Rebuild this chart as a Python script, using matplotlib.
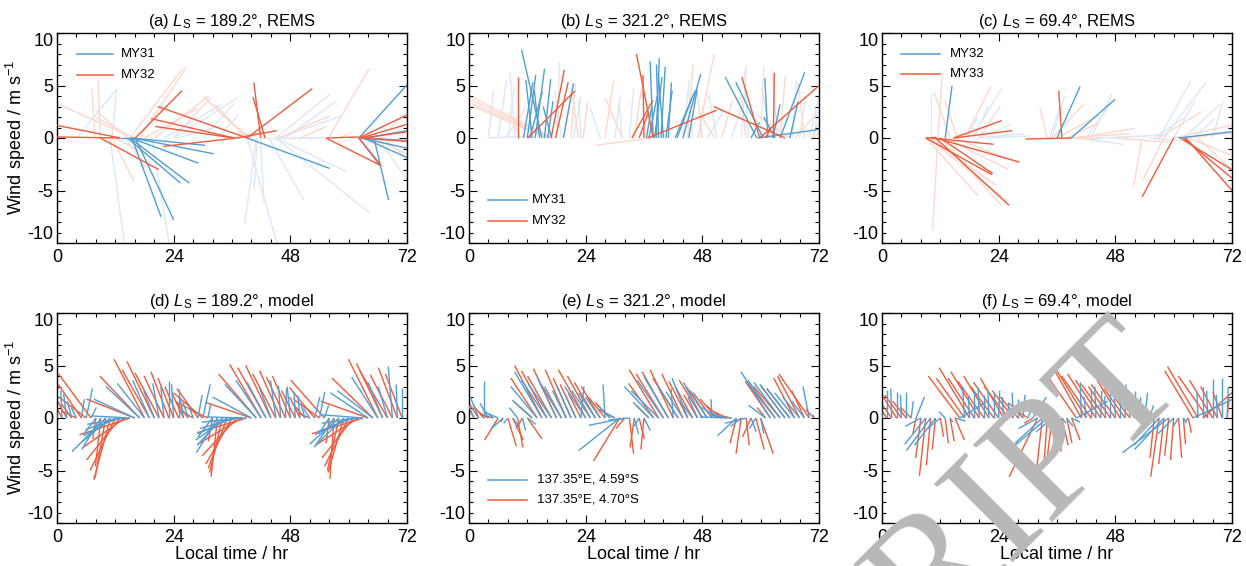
import numpy as np
import matplotlib
matplotlib.use('Agg')
import matplotlib.pyplot as plt
from matplotlib.collections import LineCollection
from matplotlib.lines import Line2D
from matplotlib.ticker import MultipleLocator

plt.rcParams['font.family'] = ['Liberation Sans', 'DejaVu Sans']
plt.rcParams['mathtext.fontset'] = 'custom'
plt.rcParams['mathtext.rm'] = 'Liberation Sans'
plt.rcParams['mathtext.it'] = 'Liberation Sans:italic'
plt.rcParams['axes.unicode_minus'] = False

# ---------------- data ----------------
titles = [r'(a) $L_\mathrm{S}$ = 189.2°, REMS', r'(b) $L_\mathrm{S}$ = 321.2°, REMS',
          r'(c) $L_\mathrm{S}$ = 69.4°, REMS', r'(d) $L_\mathrm{S}$ = 189.2°, model',
          r'(e) $L_\mathrm{S}$ = 321.2°, model', r'(f) $L_\mathrm{S}$ = 69.4°, model']
xticks = [0, 24, 48, 72]
yticks = [-10, -5, 0, 5, 10]
ytick_labels = ['-10', '-5', '0', '5', '10']
legend_a = ['MY31', 'MY32']
legend_b = ['MY31', 'MY32']
legend_c = ['MY32', 'MY33']
legend_e = ['137.35°E, 4.59°S', '137.35°E, 4.70°S']

model_hours = np.arange(72)

# panel d (model, Ls 189.2)
d_blue_u = [-0.2,-0.1,-0.3,-0.4,-0.5,0.3,0.6,0.5,-1.2,-1.8,-3.2,-2.6,-3.0,-3.3,-3.6,-3.7,-3.9,-3.2,-2.6,-1.6,-1.0,-0.6,-0.3,0.0,
            -0.2,0.0,-0.3,-0.5,-0.4,0.4,0.7,0.3,-1.4,-2.0,-2.4,-3.0,-3.3,-3.5,-3.8,-3.8,-3.7,-3.0,-2.4,-1.8,-1.1,-0.5,-0.2,0.1,
            -0.3,-0.1,-0.2,-0.4,-0.6,0.5,0.5,0.4,-1.0,-1.9,-2.8,-2.7,-3.2,-3.4,-3.5,-3.9,-3.6,-3.4,-2.5,-1.4,-0.9,-0.4,-0.1,0.0]
d_blue_v = [3.4,2.6,2.3,1.6,1.0,1.8,2.8,1.0,-1.6,-3.0,-3.2,-2.2,-1.7,-1.1,-0.6,0.2,1.8,3.0,3.3,3.6,2.6,3.3,3.0,3.5,
            3.2,2.8,2.0,1.5,1.2,2.2,3.2,1.3,-1.8,-3.3,-2.6,-2.1,-1.5,-1.0,-0.4,0.1,2.0,3.2,3.6,3.4,2.9,3.6,3.1,2.8,
            3.0,2.5,2.1,1.4,0.9,2.0,2.5,1.2,-1.5,-2.8,-2.5,-2.6,-1.6,-1.3,-0.5,0.3,2.4,2.6,3.9,3.4,3.0,4.9,3.2,2.9]
d_red_u = [-1.6,-1.4,-1.2,-1.0,-1.3,-2.2,-2.6,-3.1,-0.3,-0.5,-1.0,-1.6,-2.4,-3.2,-4.0,-4.8,-4.6,-3.8,-2.9,-2.6,-2.6,-2.3,-1.9,-1.7,
           -1.5,-1.3,-1.1,-1.2,-1.4,-2.0,-2.8,-3.0,-0.4,-0.6,-1.2,-1.8,-2.5,-3.3,-4.2,-4.7,-4.4,-3.6,-3.0,-2.7,-2.4,-2.2,-2.0,-1.8,
           -1.7,-1.3,-1.0,-1.1,-1.2,-2.4,-2.5,-3.2,-0.3,-0.4,-1.1,-1.5,-2.3,-3.0,-4.1,-4.9,-4.5,-3.9,-2.8,-2.5,-2.7,-2.1,-1.8,-1.6]
d_red_v = [4.3,2.8,2.2,1.4,0.6,3.2,2.0,4.2,-2.0,-4.6,-5.7,-5.9,-5.0,-4.0,-2.8,-1.6,1.8,4.0,5.6,4.6,5.4,4.3,4.0,4.4,
           3.8,3.0,2.4,1.6,0.8,2.8,2.4,1.5,-2.2,-5.6,-5.2,-4.8,-4.4,-3.6,-2.5,-1.4,1.5,4.2,5.1,4.8,5.0,4.2,4.5,3.9,
           4.0,2.6,2.0,1.3,0.5,2.9,1.8,3.6,-2.4,-5.8,-5.0,-5.2,-4.6,-3.8,-2.6,-1.5,1.6,3.8,5.6,5.2,4.6,4.1,4.8,4.2]

# panel e (model, Ls 321.2)
e_blue_u = [-1.2,-1.0,-0.8,0.0,-0.8,-1.0,-0.9,-1.1,-0.4,0.6,-0.8,0.3,0.8,-1.9,-2.5,-2.6,-2.4,-2.2,-1.8,-1.6,-1.3,-1.4,-1.0,0.3,
            -2.0,-1.8,-1.6,-1.4,-0.2,-1.2,-1.0,-3.9,-3.4,-2.0,0.4,-0.5,0.6,-1.5,-2.8,-2.6,-2.5,-2.3,-0.2,-2.0,-1.6,-1.5,-1.2,-0.9,
            -1.8,-1.6,-0.1,-1.4,-1.2,-1.5,-3.0,-1.8,-1.0,-2.0,0.5,-0.6,0.3,-1.6,-2.8,-2.6,-2.5,-2.4,-2.2,-1.9,-1.6,-1.2,-0.6,-0.1]
e_blue_v = [3.0,2.5,2.0,3.5,1.4,0.8,0.4,-1.0,-0.5,-0.8,1.0,-1.2,-0.6,1.7,3.0,4.4,3.6,3.2,3.8,3.0,2.6,3.2,2.2,3.0,
            3.0,2.6,2.4,2.0,3.2,1.2,0.5,-3.1,-0.7,-0.2,-1.5,-0.8,-1.2,1.5,3.0,2.6,3.6,3.9,2.8,3.2,2.5,3.8,1.6,2.0,
            3.4,2.6,1.8,1.0,0.6,0.3,0.1,-1.7,-0.8,-0.5,-1.3,-1.0,-1.5,1.2,4.4,3.6,3.4,3.2,2.8,2.4,2.0,1.6,3.0,0.3]
e_red_u = [-1.5,-1.3,-1.2,-1.0,-1.0,-1.2,-1.3,-0.2,0.8,1.0,0.5,-0.6,1.4,-1.8,-2.5,-2.6,-2.4,-2.3,-2.2,-2.0,-2.0,-1.7,-1.5,-1.2,
           -2.6,-2.2,-2.0,-1.8,-1.6,-1.4,-1.5,-2.5,-0.8,0.4,-0.4,0.5,-0.3,-1.2,-2.4,-2.8,-2.6,-2.5,-2.2,-2.4,-2.0,-1.8,-1.6,-1.3,
           -2.2,-2.0,-1.8,-1.6,-1.5,-1.2,-1.0,-0.6,-0.5,0.3,-0.8,0.8,1.2,-0.8,-2.4,-2.6,-2.5,-2.3,-2.2,-2.0,-2.1,-1.2,-2.9,-0.8]
e_red_v = [3.6,2.6,1.8,1.2,0.6,0.3,-2.1,-0.4,-2.7,-2.1,-2.8,-1.0,-2.0,1.6,3.8,5.0,4.5,4.0,4.7,3.3,4.6,3.8,3.2,2.4,
           4.6,4.0,3.4,3.0,2.0,1.5,0.8,-4.1,-1.0,-3.4,-2.8,-2.0,-3.0,1.2,3.3,4.6,4.2,4.4,4.6,3.8,4.2,3.5,2.9,2.2,
           3.6,3.0,2.4,1.8,1.2,0.6,0.2,-2.4,-3.4,-2.6,-1.8,-3.0,-3.4,1.0,3.5,3.3,3.0,3.1,2.8,3.8,4.0,2.6,4.2,0.8]

# panel f (model, Ls 69.4)
f_blue_u = [-0.1,0.0,-0.1,0.0,-0.1,0.0,0.2,0.8,-1.5,-2.0,-2.3,-2.0,-1.2,-0.6,0.3,1.0,2.5,-0.2,-0.1,0.0,-0.1,0.0,-0.1,0.0,
            0.1,-0.1,0.0,-0.1,0.0,0.2,0.5,1.3,-1.8,-2.6,-3.9,-1.5,-1.0,0.4,0.6,0.8,3.0,-0.1,-0.2,0.0,-0.1,0.1,-0.1,0.0,
            -0.1,0.0,0.1,-0.1,0.0,0.0,0.3,0.4,-1.0,-2.4,-2.8,-4.4,-1.5,-0.5,0.3,-0.2,3.8,-0.1,0.0,-0.1,0.0,-0.1,0.0,0.1]
f_blue_v = [2.2,2.7,2.8,2.5,2.2,2.5,1.6,2.0,-0.8,-2.5,-3.1,-2.6,-1.0,0.6,-0.4,-0.3,1.5,3.0,2.0,2.6,2.9,2.2,2.7,2.4,
            2.6,2.0,1.5,2.4,1.8,2.2,1.2,2.0,-1.0,-2.4,-3.3,-1.3,-0.7,-0.5,-0.8,-0.4,1.6,3.4,2.0,2.8,3.0,2.6,2.1,2.4,
            2.8,2.3,3.2,2.0,2.6,2.0,2.4,1.2,-0.6,-2.6,-3.0,-3.3,-1.5,-0.8,-0.5,-0.3,1.8,2.5,3.0,2.6,3.7,2.2,3.8,2.9]
f_red_u = [-2.1,-2.0,-1.9,-2.1,-1.6,-1.3,-1.0,-0.3,-0.5,-0.6,-0.4,-0.3,0.3,0.3,0.4,0.9,-3.0,-2.7,-2.9,-2.5,-2.7,-2.5,-2.4,-2.2,
           -2.4,-2.2,-2.3,-2.0,-1.7,-1.3,-1.2,-0.8,-2.7,-0.6,-0.3,-0.5,0.4,0.6,0.5,0.8,-2.9,-2.7,-3.1,-2.8,-2.7,-2.4,-2.3,-2.1,
           -2.3,-2.2,-2.0,-1.9,-1.7,-1.3,-1.0,-0.6,-0.4,-0.8,-0.5,-0.4,-0.3,0.3,0.2,0.3,-2.7,-2.9,3.0,-2.8,-2.2,-1.6,-0.9,0.2]
f_red_v = [3.5,3.0,2.6,3.3,2.2,1.6,1.0,-1.5,-3.8,-5.5,-4.5,-3.0,-1.8,-2.4,-2.2,-2.1,4.0,3.8,4.8,3.8,4.4,3.5,4.0,3.0,
           3.4,3.8,3.0,2.6,2.0,1.4,0.8,-0.5,-5.6,-5.3,-4.2,-4.0,-3.2,-2.6,-2.4,-2.1,4.2,4.8,5.0,4.0,4.2,3.6,3.2,3.0,
           3.2,3.6,2.8,2.5,2.0,1.5,0.8,-1.0,-3.8,-5.6,-4.4,-3.6,-4.0,-3.8,-2.5,-1.4,4.5,4.9,2.6,4.0,3.6,3.0,2.5,2.0]

# REMS panels: (local time, u, v)
a_blue = [(16.1,3.66,-7.8),(15.4,2.78,-7.5),(14.5,5.05,-4.3),(15.0,5.65,-4.3),(15.2,6.44,-2.4),
          (15.6,7.69,-1.5),(15.5,6.94,-0.7),(13.0,1.2,0.0),(39.1,7.87,-2.9),(62.1,4.8,5.3),
          (65.2,1.39,-5.9),(62.1,2.08,-2.7),(62.5,5.0,-1.1),(63.0,4.5,-2.0),(63.5,4.5,0.8),(64.0,4.2,-0.3)]
a_red = [(13.0,-6.0,1.2),(13.0,-6.0,0.1),(8.9,5.55,-3.0),(16.1,4.44,4.5),(39.1,-8.5,3.0),
         (36.4,-7.9,1.85),(36.4,-7.5,1.1),(37.0,-7.0,-0.8),(37.0,3.8,0.7),(41.9,-0.65,5.3),
         (42.8,-1.15,3.9),(39.1,6.2,4.7),(55.3,5.2,-2.6),(62.1,4.6,2.2),(62.5,4.4,1.3),
         (63.0,4.2,0.6),(62.5,4.4,-0.3),(55.6,3.0,0.1),(62.1,2.1,-2.6)]
a_blue_other = [(4.0,3.8,4.6),(11.3,0.46,4.7),(10.9,1.4,-10.2),(19.5,1.67,-10.2),(39.1,2.9,-10.2),
                (41.9,0.3,-6.2),(41.2,-0.3,-4.8),(41.0,-1.1,-8.2),(43.6,3.3,-5.9),(45.0,8.9,-7.1),
                (45.0,6.7,-3.2),(24.3,5.9,3.8),(45.0,5.2,4.2),(47.0,4.8,3.5),(45.7,5.9,2.1),
                (66.6,2.5,2.5),(66.0,2.8,-4.0),(67.0,2.4,-2.0),(42.0,5.0,0.0),(48.0,4.0,0.05),
                (22.0,5.5,3.2),(30.0,3.0,3.3),(33.0,2.0,2.2),(25.0,4.0,1.2),(14.0,2.0,-2.8),(60.0,5.5,-0.4)]
a_red_other = [(7.8,-0.3,4.7),(8.9,-0.2,5.5),(15.7,-7.3,3.3),(15.7,-3.6,2.0),(14.5,-3.0,2.6),
               (11.3,2.1,-4.1),(15.0,5.0,6.6),(17.0,4.5,6.8),(20.0,5.2,4.0),(39.1,-4.1,3.9),
               (39.0,-3.0,3.2),(55.8,3.9,6.6),(45.5,4.9,2.1),(40.0,-2.0,1.5),(64.0,3.6,-0.4),
               (65.0,3.2,-1.5),(12.0,3.0,-1.6),(18.0,5.0,2.8),(24.0,3.5,3.8),(58.0,1.2,0.5),
               (36.0,3.0,0.6),(50.0,2.5,1.1)]

b_blue = [(15.0,-1.94,8.4),(11.2,0.9,5.3),(12.0,0.8,6.0),(13.0,-0.6,5.5),(13.6,0.9,6.6),
          (14.5,-0.5,4.6),(15.5,0.6,5.6),(16.2,0.5,3.5),(12.5,1.2,4.4),(19.4,0.97,5.2),(17.0,-0.8,3.0),
          (37.9,-0.3,7.3),(38.5,0.3,7.6),(39.0,-0.2,7.0),(39.5,0.4,6.8),(38.2,0.7,5.8),(40.0,-0.5,6.2),
          (40.5,0.6,4.5),(41.0,0.3,5.3),(42.4,1.9,4.5),(42.8,1.4,3.8),(44.0,1.7,6.1),(37.0,0.8,4.0),
          (36.5,0.5,3.0),(45.2,0.8,4.6),
          (59.2,-3.0,5.8),(60.5,-2.6,5.3),(61.5,-0.3,5.7),(64.0,2.35,6.3),(59.4,5.8,0.8),
          (62.5,0.7,3.2),(58.0,0.8,1.5),(63.0,-1.1,2.0),(66.0,0.8,3.5)]
b_red = [(10.0,0.0,5.8),(12.1,4.5,4.5),(16.9,1.25,6.5),(17.8,1.2,5.3),(37.9,-1.6,8.0),
         (33.5,2.0,3.6),(36.7,6.6,2.65),(36.0,-0.1,6.0),(35.0,0.9,2.5),(59.8,-1.7,5.8),
         (62.6,0.1,6.2),(65.0,-6.8,3.0),(59.8,5.65,5.0),(61.0,0.5,1.0)]
b_blue_other = [(4.0,0.5,4.6),(6.0,0.8,5.5),(8.0,0.6,5.0),(9.5,-0.5,6.2),(18.0,0.3,7.2),
                (19.0,-0.6,4.5),(21.5,0.7,4.0),(23.0,-0.2,3.6),(4.0,4.0,0.2),(7.5,2.0,3.0),
                (30.0,0.5,4.0),(31.5,-0.3,3.6),(33.0,0.4,4.8),(44.0,0.6,5.5),(46.0,-0.4,5.0),
                (47.5,0.3,3.0),(49.0,1.5,2.5),(51.0,-0.8,4.2),(27.0,-1.0,3.0),
                (56.0,0.5,7.0),(57.5,-0.4,6.5),(60.0,0.3,6.9),(63.5,-0.5,6.5),(66.5,0.4,5.5),
                (68.0,0.6,4.0),(70.0,0.9,3.8),(71.0,0.3,2.5),(54.0,1.0,3.0)]
b_red_other = [(17.4,-8.0,4.0),(17.0,-7.6,3.6),(16.5,-7.4,3.3),(16.0,-7.0,3.0),(19.5,0.8,4.8),
               (21.0,0.4,5.2),(22.5,-0.6,4.4),(23.5,0.4,3.4),(10.5,-1.0,2.5),
               (37.5,-5.3,-0.7),(28.0,0.8,5.5),(31.5,-1.6,3.8),(34.0,0.7,4.8),(45.0,0.5,7.0),
               (47.0,1.6,8.0),(48.0,-0.5,4.5),(50.5,-1.5,2.5),(52.0,1.0,3.5),
               (57.0,-0.5,4.0),(62.0,-0.8,4.8),(64.0,0.5,6.0),(66.0,-3.2,2.2),(67.0,2.0,2.2),
               (69.0,-0.6,5.2),(70.5,1.4,3.0),(71.0,1.0,1.2)]

c_blue = [(13.0,0.65,4.95),(36.0,2.2,4.9),(38.9,4.2,3.7),(61.0,5.1,0.6)]
c_red = [(9.0,6.3,-3.5),(11.0,7.0,-6.4),(11.0,8.0,-2.3),(10.0,6.0,-0.6),(14.7,4.6,1.65),
         (14.7,5.6,0.7),(12.0,5.0,-3.4),(9.0,1.0,0.05),(37.0,-0.3,4.5),(38.9,-4.35,-0.1),
         (60.0,-3.0,-5.6),(61.3,4.9,-3.0),(62.0,4.6,-3.8),(62.5,4.4,-5.0)]
c_blue_other = [(10.0,0.0,4.2),(18.6,2.8,4.8),(19.0,1.3,3.0),(17.5,1.0,2.0),(20.0,3.0,1.3),
                (19.5,4.5,0.4),(22.0,4.0,0.2),(34.5,1.0,3.0),(35.0,1.2,4.0),(42.0,2.5,3.5),
                (43.0,2.0,4.2),(40.0,3.0,-0.4),(41.0,4.0,-0.6),(44.0,5.0,0.2),(47.0,5.0,0.3),
                (57.0,3.0,5.4),(58.0,4.0,5.3),(60.0,2.0,3.5),(62.0,3.5,3.2),(64.0,2.0,1.8),
                (56.0,3.0,2.0),(55.0,3.0,-0.3),(68.0,1.0,3.5)]
c_red_other = [(11.5,0.4,5.9),(11.5,-0.5,-8.8),(9.0,5.0,-5.5),(9.5,7.5,-6.0),(10.0,6.2,-4.5),
               (12.0,5.8,-6.4),(13.0,6.0,-3.0),(15.0,5.0,-2.0),(14.0,-1.5,4.3),(15.5,-1.2,3.6),
               (17.0,2.5,4.9),(20.0,2.0,3.0),(8.0,0.0,0.1),
               (34.0,-0.7,2.8),(35.0,3.0,3.2),(36.0,4.0,2.2),(38.0,3.0,1.4),(40.0,5.5,0.9),
               (38.0,6.0,0.4),(32.0,6.0,0.0),
               (53.5,-0.8,-4.6),(57.0,4.0,2.5),(60.0,5.5,1.2),(62.0,5.0,0.5),(48.0,5.0,-0.4),
               (63.0,4.0,-1.6),(65.0,3.2,-3.0),(58.0,-2.0,-4.0)]

# ---------------- style ----------------
BLUE = '#4f9fd5'
RED = '#f15a3c'
LBLUE = '#dce8f4'
LRED = '#fcd8cd'

FW, FH = 1246, 566
fig = plt.figure(figsize=(FW/100, FH/100), dpi=100)
lefts = [57, 469, 882]
tops = [33, 313]
AW, AH = 350, 210
K = (72.0/AW) / (20.0/AH)   # hours of time axis per m/s of u, so sticks keep their direction


def stick(ax, t, u, v, color, lw=1.0, z=2):
    segs = [[(ti, 0.0), (ti + ui*K, vi)] for ti, ui, vi in zip(t, u, v)]
    ax.add_collection(LineCollection(segs, colors=color, linewidths=lw, zorder=z,
                                     capstyle='butt'))


def stick_list(ax, rows, color, lw=1.0, z=2):
    t = [r[0] for r in rows]; u = [r[1] for r in rows]; v = [r[2] for r in rows]
    stick(ax, t, u, v, color, lw, z)


def legend(ax, x0, x1, xt, ys, labels):
    for y, lab, col in zip(ys, labels, [BLUE, RED]):
        ax.add_line(Line2D([x0, x1], [y, y], color=col, lw=1.1, transform=ax.transAxes, zorder=5))
        ax.text(xt, y, lab, transform=ax.transAxes, fontsize=9.5, va='center', ha='left', zorder=5)


axes = []
for r in range(2):
    for c in range(3):
        l = lefts[c] / FW
        b = 1 - (tops[r] + AH) / FH
        ax = fig.add_axes([l, b, AW / FW, AH / FH])
        ax.set_xlim(0, 72)
        ax.set_ylim(-10, 10)
        ax.set_xticks(xticks)
        ax.set_yticks(yticks, labels=ytick_labels)
        ax.xaxis.set_minor_locator(MultipleLocator(4))
        ax.yaxis.set_minor_locator(MultipleLocator(1))
        ax.tick_params(which='both', direction='in', top=True, right=True, width=0.8)
        ax.tick_params(which='major', length=6, labelsize=13)
        ax.tick_params(axis='x', which='major', pad=4)
        ax.tick_params(axis='y', which='major', pad=2.5)
        ax.tick_params(which='minor', length=3)
        ticks = ax.yaxis.get_major_ticks()
        ticks[0].label1.set_verticalalignment('bottom')
        ticks[-1].label1.set_verticalalignment('top')
        for s in ax.spines.values():
            s.set_linewidth(1.0)
        ax.set_title(titles[r*3 + c], fontsize=12, pad=5)
        if c == 0:
            ax.set_ylabel(r'Wind speed / m s$^{-1}$', fontsize=13)
            ax.yaxis.set_label_coords(-0.083, 0.5)
        if r == 1:
            ax.set_xlabel('Local time / hr', fontsize=13, labelpad=0)
        axes.append(ax)

axa, axb, axc, axd, axe, axf = axes

# REMS panels
stick_list(axa, a_blue_other, LBLUE, 1.0, 1)
stick_list(axa, a_red_other, LRED, 1.0, 1)
stick_list(axa, a_blue, BLUE, 1.0, 2)
stick_list(axa, a_red, RED, 1.0, 3)

stick_list(axb, b_blue_other, LBLUE, 1.0, 1)
stick_list(axb, b_red_other, LRED, 1.0, 1)
stick_list(axb, b_blue, BLUE, 1.0, 2)
stick_list(axb, b_red, RED, 1.0, 3)

stick_list(axc, c_blue_other, LBLUE, 1.0, 1)
stick_list(axc, c_red_other, LRED, 1.0, 1)
stick_list(axc, c_blue, BLUE, 1.0, 3)
stick_list(axc, c_red, RED, 1.0, 2)

# model panels
for ax, bu, bv, ru, rv in [(axd, d_blue_u, d_blue_v, d_red_u, d_red_v),
                           (axe, e_blue_u, e_blue_v, e_red_u, e_red_v),
                           (axf, f_blue_u, f_blue_v, f_red_u, f_red_v)]:
    stick(ax, model_hours, ru, rv, RED, 1.0, 2)
    stick(ax, model_hours, bu, bv, BLUE, 1.0, 3)

# legends
legend(axa, 0.056, 0.161, 0.182, [0.9, 0.80], legend_a)
legend(axb, 0.054, 0.166, 0.18, [0.205, 0.105], legend_b)
legend(axc, 0.054, 0.166, 0.195, [0.9, 0.805], legend_c)
legend(axe, 0.054, 0.166, 0.195, [0.205, 0.11], legend_e)

# watermark of the source manuscript
fig.text(1186/FW, 1 - 378/FH, 'SCRIPT', rotation=45, rotation_mode='anchor',
         ha='right', va='baseline', fontsize=122, color='#b8b8b8',
         family=['Liberation Serif', 'DejaVu Serif'], zorder=20)

fig.savefig('out.png', dpi=100)
